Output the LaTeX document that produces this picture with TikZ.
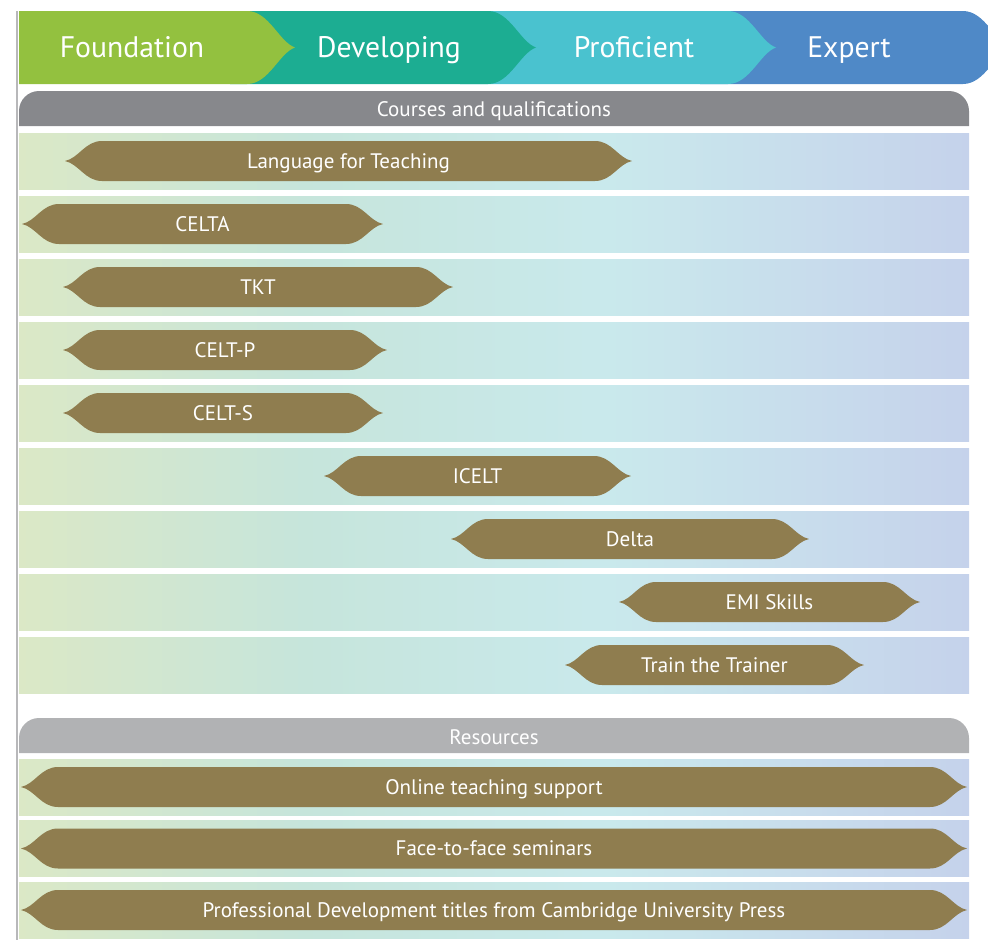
\documentclass[tikz,border=0pt]{standalone}
\usepackage{fontspec}
\setmainfont{PT Sans}
\usetikzlibrary{positioning}

\definecolor{foundgreen}{HTML}{93C13F}
\definecolor{devteal}{HTML}{1CAD92}
\definecolor{profcyan}{HTML}{4AC2CF}
\definecolor{expblue}{HTML}{4F89C7}
\definecolor{coursegray}{HTML}{87888C}
\definecolor{resgray}{HTML}{B1B2B4}
\definecolor{edgegray}{HTML}{B8B8BA}
\definecolor{pillbrown}{HTML}{8F7D4F}
\definecolor{bandA}{HTML}{DBE8C6}
\definecolor{bandB}{HTML}{C6E5DB}
\definecolor{bandC}{HTML}{C9E9EC}
\definecolor{bandD}{HTML}{C8DDEC}
\definecolor{bandE}{HTML}{C5D2EB}
\pgfdeclarehorizontalshading{bandshade}{100bp}{color(0bp)=(bandA); color(25bp)=(bandA); color(40bp)=(bandB); color(56bp)=(bandC); color(66bp)=(bandD); color(75bp)=(bandE); color(100bp)=(bandE)}

\begin{document}
\begin{tikzpicture}[x=1pt, y=-1pt,
		head/.style = {text=white, font=\fontsize{29.7}{30}\selectfont, anchor=base, inner sep=0pt},
		lbl/.style = {text=white, font=\fontsize{21}{21}\selectfont, anchor=base, inner sep=0pt},
		band/.style = {shading=bandshade}]
		\useasboundingbox (0,0) rectangle (988,940);
		\clip (0,0) rectangle (988,940);
		% stages along the top
		\foreach \col/\xs/\xe/\txt/\nm/\tx in {expblue/700/963/Expert/expert/849, profcyan/460/728/Proficient/prof/634, devteal/230/488/Developing/dev/389, foundgreen/19/247/Foundation/found/132} {
			\fill [\col] (\xs,11) -- (\xe,11) .. controls (\xe+22,11) and (\xe+32,42) .. (\xe+48,47.5)
				.. controls (\xe+32,53) and (\xe+22,84) .. (\xe,84) -- (\xs,84) -- cycle;
			\node [head] (\nm) at (\tx,57) {\txt};
		}
		\draw [edgegray, line width=1.6pt] (17.2,11) -- (17.2,940);
		% courses
		\fill [coursegray] (19,126) [rounded corners=20pt] -- (19,91) -- (969,91) [sharp corners] -- (969,126) -- cycle;
		\node [lbl] (coursesbar) at (494,116) {Courses and qualifications};
		\foreach \i in {0,...,8}
			\shade [band] (19,133+63*\i) rectangle (969,189+63*\i);
		\foreach \i/\a/\b/\t in {0/65/632/Language for Teaching, 1/22/383/CELTA, 2/63/453/TKT, 3/63/387/CELT-P, 4/63/383/CELT-S, 5/324/631/ICELT, 6/451/809/Delta, 7/619/920/EMI Skills, 8/565/864/Train the Trainer} {
			\pgfmathsetmacro\y{161+63*\i}
			\fill [pillbrown] (\a,\y) .. controls (\a+14,\y-3) and (\a+20,\y-20) .. (\a+37,\y-20) -- (\b-37,\y-20)
				.. controls (\b-20,\y-20) and (\b-14,\y-3) .. (\b,\y) .. controls (\b-14,\y+3) and (\b-20,\y+20) .. (\b-37,\y+20)
				-- (\a+37,\y+20) .. controls (\a+20,\y+20) and (\a+14,\y+3) .. cycle;
			\node [lbl] (course\i) at ({(\a+\b)/2},\y+7) {\t};
		}
		% resources
		\fill [resgray] (19,753) [rounded corners=20pt] -- (19,718) -- (969,718) [sharp corners] -- (969,753) -- cycle;
		\node [lbl] (resbar) at (494,744) {Resources};
		\foreach \i/\t in {0/Online teaching support, 1/Face-to-face seminars, 2/Professional Development titles from Cambridge University Press} {
			\pgfmathsetmacro\y{787+61.5*\i}
			\shade [band] (19,\y-28) rectangle (969,\y+28);
			\fill [pillbrown] (21,\y) .. controls (35,\y-3) and (41,\y-20) .. (58,\y-20) -- (930,\y-20)
				.. controls (947,\y-20) and (953,\y-3) .. (967,\y) .. controls (953,\y+3) and (947,\y+20) .. (930,\y+20)
				-- (58,\y+20) .. controls (41,\y+20) and (35,\y+3) .. cycle;
			\node [lbl] (res\i) at (494,\y+7) {\t};
		}
	\end{tikzpicture}
\end{document}
